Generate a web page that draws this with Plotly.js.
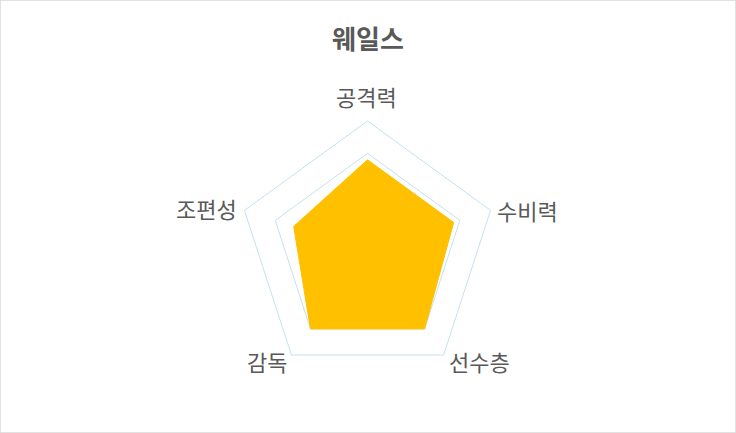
<!DOCTYPE html>
<html>
<head>
<meta charset="utf-8">
<script src="https://cdn.plot.ly/plotly-3.0.1.min.js"></script>
<style>
  html,body{margin:0;padding:0;background:#fff;}
  #chart{width:736px;height:433px;}
</style>
</head>
<body>
<div id="chart"></div>
<script>
// 웨일스 – 팀 평가 레이더
const TEAM = '웨일스';
const CATEGORIES = ['공격력','수비력','선수층','감독','조편성'];
const SCORES = [70, 70, 75, 75, 60];
const R_MAX = 100;
const R_STEP = 25;

const FONT = '"Noto Sans CJK KR", "Noto Sans", sans-serif';

// close the polygon
const theta = CATEGORIES.concat([CATEGORIES[0]]);
const r = SCORES.concat([SCORES[0]]);

const trace = {
  type:'scatterpolar', mode:'lines',
  r, theta,
  fill:'toself', fillcolor:'#FFC000',
  line:{color:'#FFC000', width:1},
  hoverinfo:'theta+r', showlegend:false
};

// label spots around the pentagon (pixels from top-left)
const LABEL_XY = [[366.5,96],[527,210],[479,361],[267,361],[206,208]];
const W = 736, H = 433;
const annotations = CATEGORIES.map((c,i)=>({
  text:c, showarrow:false, xref:'paper', yref:'paper',
  x:LABEL_XY[i][0]/W, y:1-LABEL_XY[i][1]/H, xanchor:'center', yanchor:'middle',
  font:{size:22, color:'#595959', family:FONT}
}));

const layout = {
  width:W, height:H,
  margin:{l:0,r:0,t:0,b:0},
  paper_bgcolor:'#fff', plot_bgcolor:'#fff',
  font:{family:FONT, color:'#595959'},
  title:{text:'<b>'+TEAM+'</b>', x:0.5, xanchor:'center', y:0.908, yanchor:'middle',
         font:{size:26, color:'#595959', family:FONT}},
  polar:{
    domain:{x:[0.3235,0.6752], y:[0.1229,0.7206]},
    gridshape:'linear',
    bgcolor:'rgba(0,0,0,0)',
    radialaxis:{range:[0,R_MAX], dtick:R_STEP, showticklabels:false, ticks:'',
                showline:false, gridcolor:'#c4e2ee', gridwidth:1},
    angularaxis:{rotation:90, direction:'clockwise', showline:true, linecolor:'#c4e2ee',
                 linewidth:1, showgrid:false, ticks:'', showticklabels:false}
  },
  annotations,
  shapes:[{type:'rect', xref:'paper', yref:'paper', x0:0, x1:1, y0:0, y1:1,
           line:{color:'#d9d9d9', width:1.5}}]
};

Plotly.newPlot('chart',[trace],layout,{displayModeBar:false,responsive:false});
</script>
</body>
</html>
